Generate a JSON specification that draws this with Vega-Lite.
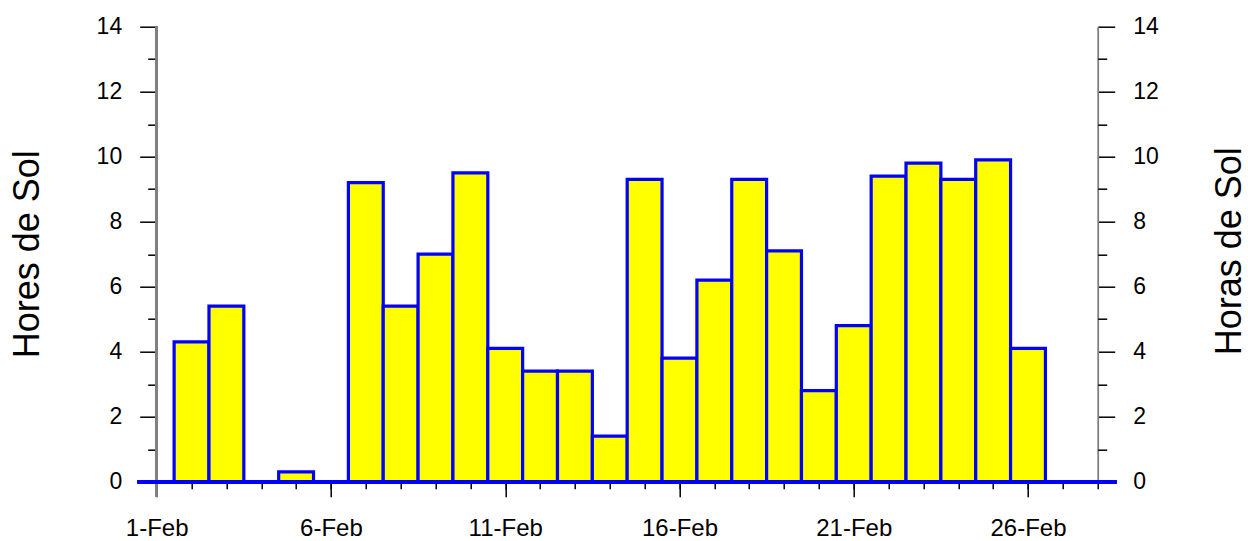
{
  "$schema": "https://vega.github.io/schema/vega-lite/v6.json",
  "autosize": "none",
  "width": 941,
  "height": 455,
  "padding": {"left": 156.7, "top": 26.7, "right": 150.3, "bottom": 59.3},
  "background": "white",
  "config": {
    "view": {"stroke": null},
    "font": "Liberation Sans",
    "axis": {
      "labelFont": "Liberation Sans",
      "titleFont": "Liberation Sans",
      "labelColor": "black",
      "titleColor": "black",
      "titleFontWeight": "normal",
      "tickColor": "black",
      "tickWidth": 1.5,
      "domainColor": "#808080",
      "domainWidth": 1.8,
      "grid": false
    }
  },
  "data": {
    "values": [
      {"day": 2, "hours": 4.3},
      {"day": 3, "hours": 5.4},
      {"day": 4, "hours": 0},
      {"day": 5, "hours": 0.3},
      {"day": 6, "hours": 0},
      {"day": 7, "hours": 9.2},
      {"day": 8, "hours": 5.4},
      {"day": 9, "hours": 7.0},
      {"day": 10, "hours": 9.5},
      {"day": 11, "hours": 4.1},
      {"day": 12, "hours": 3.4},
      {"day": 13, "hours": 3.4},
      {"day": 14, "hours": 1.4},
      {"day": 15, "hours": 9.3},
      {"day": 16, "hours": 3.8},
      {"day": 17, "hours": 6.2},
      {"day": 18, "hours": 9.3},
      {"day": 19, "hours": 7.1},
      {"day": 20, "hours": 2.8},
      {"day": 21, "hours": 4.8},
      {"day": 22, "hours": 9.4},
      {"day": 23, "hours": 9.8},
      {"day": 24, "hours": 9.3},
      {"day": 25, "hours": 9.9},
      {"day": 26, "hours": 4.1}
    ]
  },
  "layer": [
    {
      "mark": {"type": "bar", "width": 34.85, "fill": "#FFFF00", "stroke": "#0000FF", "strokeWidth": 3.2, "strokeJoin": "miter"},
      "encoding": {
        "x": {
          "field": "day", "type": "quantitative",
          "scale": {"domain": [1, 28], "nice": false, "zero": false, "padding": 0},
          "axis": {
            "orient": "bottom", "values": [1, 6, 11, 16, 21, 26], "domain": false,
            "tickSize": 15, "labelPadding": 20, "labelFontSize": 24,
            "labelExpr": "datum.value + '-Feb'", "title": null, "labelFlush": false, "labelOverlap": false
          }
        },
        "y": {
          "field": "hours", "type": "quantitative",
          "scale": {"domain": [0, 14], "nice": false, "padding": 0},
          "axis": {
            "orient": "left", "values": [0, 2, 4, 6, 8, 10, 12, 14], "domain": false,
            "tickSize": 17, "labelPadding": 18, "labelFontSize": 23,
            "title": "Hores de Sol", "titleFontSize": 36, "titleAngle": -90,
            "titleBaseline": "alphabetic", "titleAlign": "center",
            "titleX": -118.4, "titleY": 227, "labelFlush": false, "labelOverlap": false
          }
        }
      }
    },
    {
      "mark": {"type": "bar", "opacity": 0},
      "encoding": {
        "x": {
          "field": "day", "type": "quantitative",
          "axis": {
            "orient": "bottom", "values": [1,2,3,4,5,6,7,8,9,10,11,12,13,14,15,16,17,18,19,20,21,22,23,24,25,26,27,28],
            "domain": false, "labels": false, "tickSize": 7, "title": null
          }
        },
        "y": {
          "field": "hours", "type": "quantitative",
          "axis": {
            "orient": "left", "values": [1, 3, 5, 7, 9, 11, 13], "domain": false,
            "labels": false, "tickSize": 9, "title": null
          }
        }
      }
    },
    {
      "mark": {"type": "bar", "opacity": 0},
      "encoding": {
        "x": {"field": "day", "type": "quantitative", "axis": null},
        "y": {
          "field": "hours", "type": "quantitative",
          "axis": {
            "orient": "right", "values": [0, 2, 4, 6, 8, 10, 12, 14], "domain": true,
            "tickSize": 17, "labelPadding": 18, "labelFontSize": 23,
            "title": "Horas de Sol", "titleFontSize": 36, "titleAngle": -90,
            "titleBaseline": "alphabetic", "titleAlign": "center",
            "titleX": 143, "titleY": 224, "labelFlush": false, "labelOverlap": false
          }
        }
      }
    },
    {
      "mark": {"type": "bar", "opacity": 0},
      "encoding": {
        "x": {"field": "day", "type": "quantitative", "axis": null},
        "y": {
          "field": "hours", "type": "quantitative",
          "axis": {
            "orient": "right", "values": [1, 3, 5, 7, 9, 11, 13], "domain": false,
            "labels": false, "tickSize": 9, "title": null
          }
        }
      }
    },
    {
      "mark": {"type": "rule", "color": "#808080", "strokeWidth": 1.8, "clip": false},
      "encoding": {
        "x": {"datum": 1, "type": "quantitative", "axis": null},
        "y": {"datum": 14, "type": "quantitative", "axis": null},
        "y2": {"datum": -0.46}
      }
    },
    {
      "mark": {"type": "rule", "color": "#0000FF", "strokeWidth": 3.5, "clip": false},
      "encoding": {
        "x": {"datum": 0.46, "type": "quantitative", "axis": null},
        "x2": {"datum": 28.53},
        "y": {"datum": 0, "type": "quantitative", "axis": null}
      }
    }
  ],
  "resolve": {"axis": {"x": "independent", "y": "independent"}}
}
